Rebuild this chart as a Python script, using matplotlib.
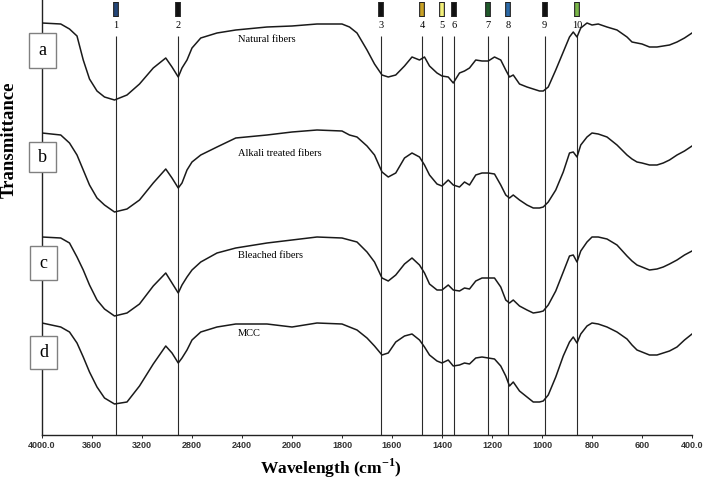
import numpy as np
import matplotlib
matplotlib.use("Agg")
import matplotlib.pyplot as plt
from matplotlib.patches import Rectangle

plt.rcParams['mathtext.fontset'] = 'custom'
plt.rcParams['mathtext.rm'] = 'Liberation Serif'
plt.rcParams['mathtext.bf'] = 'Liberation Serif:bold'

# ---------------- data ----------------
wavenumber = [4000, 3850, 3780, 3720, 3670, 3620, 3560, 3500, 3420, 3320, 3220, 3110, 3010, 2960,
              2910, 2880, 2840, 2800, 2730, 2600, 2450, 2200, 2000, 1900, 1800, 1770, 1740, 1700,
              1670, 1640, 1615, 1585, 1550, 1520, 1490, 1470, 1450, 1420, 1400, 1375, 1355, 1330,
              1310, 1290, 1265, 1240, 1215, 1190, 1165, 1145, 1130, 1115, 1090, 1060, 1035, 1010,
              995, 975, 945, 915, 890, 875, 860, 845, 820, 800, 775, 740, 700, 660, 640, 620, 600,
              570, 540, 515, 490, 460, 430, 400]

# curve depth values (arbitrary offset units, larger = lower on the plot)
natural = [23, 24, 29, 36, 60, 79, 91, 97, 100, 95, 84, 68, 58, 67,
           77, 68, 60, 48, 38, 33, 30, 27, 26, 24, 24, 27, 33, 50,
           64, 75, 77, 75, 66, 57, 60, 57, 66, 73, 76, 77, 83, 73,
           71, 68, 60, 61, 61, 57, 60, 70, 77, 75, 84, 87, 89, 91,
           91, 87, 70, 52, 37, 32, 37, 28, 23, 25, 24, 27, 30, 37, 42, 43, 44,
           47, 47, 46, 45, 42, 38, 33]
alkali = [133, 135, 143, 155, 170, 185, 198, 205, 212, 209, 200, 183, 169, 178,
          188, 183, 170, 162, 155, 147, 138, 135, 132, 130, 131, 135, 137, 146,
          155, 172, 177, 173, 158, 153, 157, 165, 175, 184, 186, 180, 185, 187,
          182, 185, 175, 173, 173, 174, 185, 195, 198, 195, 200, 205, 208, 208,
          207, 202, 190, 172, 153, 152, 157, 145, 137, 133, 134, 137, 145, 155, 159, 162, 163,
          165, 165, 163, 160, 155, 151, 146]
bleached = [237, 238, 243, 257, 270, 285, 300, 309, 316, 313, 304, 286, 273, 283,
            293, 285, 277, 270, 262, 253, 248, 243, 240, 237, 238, 240, 242, 252,
            262, 278, 281, 275, 264, 258, 265, 273, 284, 290, 290, 285, 290, 291,
            288, 289, 281, 278, 278, 278, 287, 300, 303, 300, 306, 310, 313, 312,
            311, 305, 291, 272, 256, 255, 262, 251, 242, 237, 237, 239, 245, 256, 261, 265, 267,
            270, 269, 267, 264, 260, 255, 251]
mcc = [323, 327, 332, 343, 357, 372, 387, 398, 404, 402, 386, 364, 346, 353,
       363, 358, 350, 340, 332, 327, 324, 324, 327, 323, 324, 327, 330, 338,
       346, 355, 353, 342, 336, 334, 340, 347, 355, 361, 363, 360, 366, 365,
       363, 364, 358, 357, 358, 359, 366, 376, 386, 382, 391, 397, 402, 402,
       401, 395, 377, 356, 342, 337, 343, 334, 326, 323, 324, 327, 332, 339, 345, 350, 352,
       355, 355, 353, 351, 347, 340, 334]

curve_names = ["Natural fibers", "Alkali treated fibers", "Bleached fibers", "MCC"]
curve_letters = ["a", "b", "c", "d"]

band_positions = [3410, 2915, 1645, 1480, 1400, 1352, 1215, 1135, 990, 860]
band_labels = ["1", "2", "3", "4", "5", "6", "7", "8", "9", "10"]
band_colors = ["#24477a", "#111111", "#111111", "#c9a227", "#f3f07a",
               "#111111", "#1f5a2a", "#2c6aa8", "#111111", "#7ab648"]

tick_values = [4000, 3600, 3200, 2800, 2400, 2000, 1800, 1600, 1400, 1200, 1000, 800, 600, 400]
tick_labels = ["4000.0", "3600", "3200", "2800", "2400", "2000", "1800", "1600",
               "1400", "1200", "1000", "800", "600", "400.0"]

# ---------------- figure ----------------
W, H = 708, 492
fig = plt.figure(figsize=(W / 100, H / 100), dpi=100)
ax = fig.add_axes([42 / W, 1 - 435 / H, 650 / W, 435 / H])


# piecewise-linear wavenumber axis (expanded x2 below 2000 cm-1), increasing mapping
def fwd(x):
    x = np.asarray(x, dtype=float)
    return np.where(x >= 2000, x * 0.5 - 1000, x - 2000)


def inv(u):
    u = np.asarray(u, dtype=float)
    return np.where(u >= 0, (u + 1000) * 2, u + 2000)


ax.set_xscale('function', functions=(fwd, inv))
ax.set_xlim(4000, 400)
ax.set_ylim(435, 0)

serif = 'Liberation Serif'

for ys in (natural, alkali, bleached, mcc):
    ax.plot(wavenumber, ys, color='#1a1a1a', lw=1.1, zorder=3)

# band lines and markers
ax.vlines(band_positions, 36, 435, color='#2a2a2a', lw=0.8, zorder=2)
ax.vlines(band_positions, 2, 17, color='#222222', lw=4.2, zorder=4)
ax.vlines(band_positions, 3, 16, colors=band_colors, lw=2.6, zorder=5)
for xb, lab in zip(band_positions, band_labels):
    ax.text(xb, 26, lab, ha='center', va='center', fontsize=7.5, family=serif, zorder=5)

# curve labels
label_y = [40, 153, 255, 334]
for name, yl in zip(curve_names, label_y):
    ax.text(2432, yl, name, ha='left', va='center', fontsize=7.5, family=serif, zorder=5)

# axes styling
for s in ['top', 'right']:
    ax.spines[s].set_visible(False)
ax.spines['left'].set_color('#222222')
ax.spines['bottom'].set_color('#222222')
ax.spines['left'].set_linewidth(1.0)
ax.spines['bottom'].set_linewidth(1.0)
ax.set_yticks([])
ax.set_xticks(tick_values)
ax.set_xticklabels(tick_labels, fontsize=6.5, fontweight='bold', family='Liberation Sans',
                   color='#333333')
ax.tick_params(axis='x', length=2, width=0.6, pad=2, direction='out')
ax.minorticks_off()

# letter boxes
boxes = [(29, 33, 27, 35), (29, 142, 27, 30), (30, 246, 27, 34), (30, 336, 27, 33)]
for (bx, by, bw, bh), letter in zip(boxes, curve_letters):
    r = Rectangle((bx / W, 1 - (by + bh) / H), bw / W, bh / H, transform=fig.transFigure,
                  facecolor='white', edgecolor='#808080', lw=1.0, zorder=10)
    fig.add_artist(r)
    fig.text((bx + bw / 2) / W, 1 - (by + bh / 2) / H, letter, ha='center', va='center',
             fontsize=13, family=serif, zorder=11)

fig.text(9 / W, 1 - 140 / H, "Transmittance", rotation=90, ha='center', va='center',
         fontsize=13.5, fontweight='bold', family=serif)
fig.text(331 / W, 1 - 474 / H, r"Wavelength (cm$^{\mathbf{-1}}$)", ha='center', va='baseline',
         fontsize=12.5, fontweight='bold', family=serif)

fig.savefig("out.png", dpi=100)
